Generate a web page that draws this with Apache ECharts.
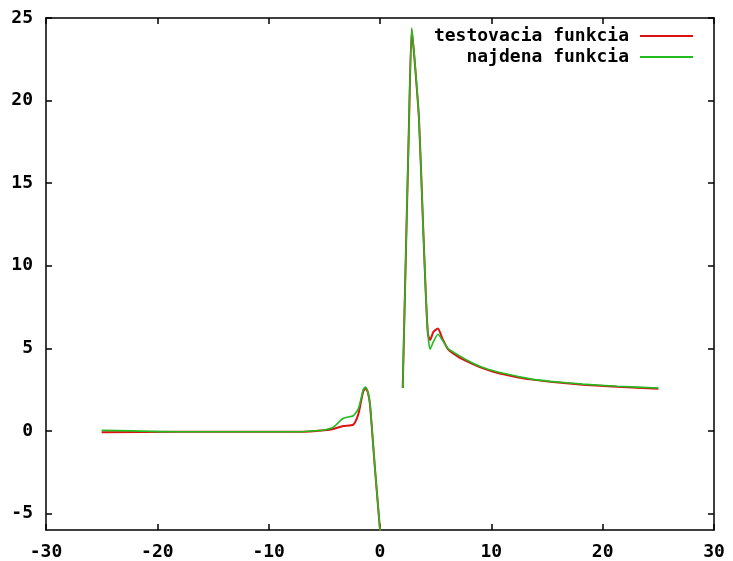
<!DOCTYPE html>
<html>
<head>
<meta charset="utf-8">
<script src="https://cdn.jsdelivr.net/npm/echarts@6/dist/echarts.min.js"></script>
<style>
  html, body { margin: 0; padding: 0; background: #fff; }
  #chart { width: 733px; height: 561px; }
</style>
</head>
<body>
<div id="chart"></div>
<script>
// x positions shared by both curves (null y = gap near the pole)
let xValues = [-25, -18, -13, -7, -6, -5, -4.2, -3.3, -2.4, -1.95, -1.7, -1.5, -1.3, -1.1, -0.9, -0.45, 0.1, 1.0,
  2.04, 2.6, 2.85, 3.1, 3.5, 3.85, 4.1, 4.3, 4.5, 4.8, 5.2, 5.6, 6.1, 7, 8, 9.2, 10.5, 12, 13.5, 15.3, 18.2, 21.3, 25];
let testValues = [-0.08, -0.05, -0.05, -0.05, -0.02, 0.04, 0.12, 0.3, 0.38, 1.0, 1.8, 2.4, 2.6, 2.35, 1.6, -2.3, -6.8, null,
  2.6, 18.5, 24.3, 22.5, 18.9, 12.8, 8.5, 5.9, 5.5, 6.0, 6.2, 5.6, 4.95, 4.5, 4.15, 3.8, 3.52, 3.3, 3.12, 2.98, 2.8, 2.67, 2.55];
let foundValues = [0.03, -0.05, -0.05, -0.05, 0.0, 0.06, 0.22, 0.77, 0.92, 1.33, 1.95, 2.5, 2.65, 2.4, 1.65, -2.3, -6.8, null,
  2.6, 18.5, 24.4, 22.6, 18.9, 12.8, 8.5, 5.9, 4.95, 5.4, 5.85, 5.5, 5.0, 4.6, 4.22, 3.85, 3.58, 3.35, 3.15, 3.0, 2.83, 2.7, 2.6];
let xTicks = [-30, -20, -10, 0, 10, 20, 30];
let yTicks = [-5, 0, 5, 10, 15, 20, 25];
let names = ['testovacia funkcia', 'najdena funkcia'];

let pairs = function (ys) {
  let out = [];
  for (let i = 0; i < xValues.length; i++) {
    out.push([xValues[i], ys[i]]);
  }
  return out;
};

let font = 'DejaVu Sans Mono';
let myChart = echarts.init(document.getElementById('chart'), null, {renderer: 'canvas'});

let xAxisBase = {
  type: 'value',
  min: -30,
  max: 30,
  interval: 10,
  axisLine: {show: true, onZero: false, lineStyle: {color: '#000', width: 1.5}},
  axisTick: {show: true, inside: true, length: 6, lineStyle: {color: '#000', width: 1.5}},
  splitLine: {show: false}
};
let yAxisBase = {
  type: 'value',
  min: -6,
  max: 25,
  axisLine: {show: true, onZero: false, lineStyle: {color: '#000', width: 1.5}},
  axisTick: {show: true, inside: true, length: 6, customValues: yTicks, lineStyle: {color: '#000', width: 1.5}},
  splitLine: {show: false}
};

let option = {
  backgroundColor: '#fff',
  animation: false,
  grid: {left: 46, right: 19, top: 18, bottom: 31, containLabel: false},
  legend: {
    orient: 'vertical',
    align: 'right',
    right: 40,
    top: 27,
    padding: 0,
    icon: 'rect',
    itemWidth: 53,
    itemHeight: 2,
    itemGap: 3,
    data: names,
    textStyle: {
      fontFamily: font,
      fontWeight: 'bold',
      fontSize: 18,
      lineHeight: 18,
      color: '#000',
      padding: [0, 6, 0, 0]
    }
  },
  xAxis: [
    Object.assign({}, xAxisBase, {
      position: 'bottom',
      axisLabel: {
        show: true, margin: 13, color: '#000',
        fontFamily: font, fontWeight: 'bold', fontSize: 18,
        formatter: function (v) { return xTicks.indexOf(v) >= 0 ? String(v) : ''; }
      }
    }),
    Object.assign({}, xAxisBase, {position: 'top', axisLabel: {show: false}})
  ],
  yAxis: [
    Object.assign({}, yAxisBase, {
      position: 'left',
      axisLabel: {
        show: true, margin: 13, color: '#000', customValues: yTicks,
        fontFamily: font, fontWeight: 'bold', fontSize: 18
      }
    }),
    Object.assign({}, yAxisBase, {position: 'right', axisLabel: {show: false}})
  ],
  series: [
    {
      name: names[0],
      type: 'line',
      symbol: 'none',
      smooth: 0.2,
      clip: true,
      connectNulls: false,
      color: '#dd1111',
      lineStyle: {color: '#dd1111', width: 2},
      data: pairs(testValues)
    },
    {
      name: names[1],
      type: 'line',
      symbol: 'none',
      smooth: 0.2,
      clip: true,
      connectNulls: false,
      color: '#22bb22',
      lineStyle: {color: '#22bb22', width: 1.6},
      data: pairs(foundValues)
    }
  ]
};
myChart.setOption(option);
</script>
</body>
</html>
